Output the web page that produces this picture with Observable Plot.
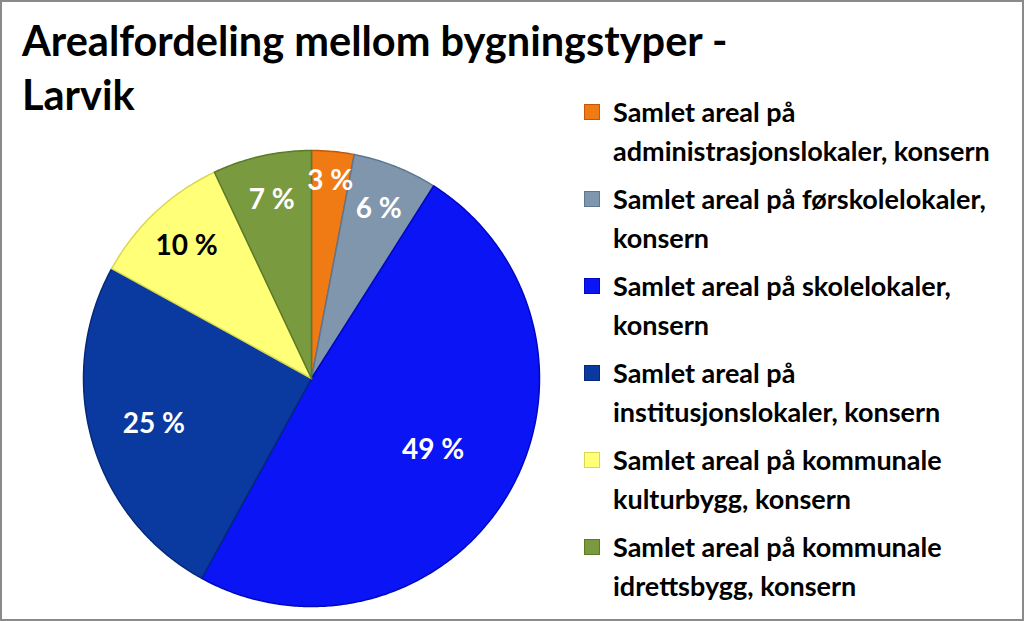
<!DOCTYPE html>
<html>
<head>
<meta charset="utf-8">
<script src="https://cdn.jsdelivr.net/npm/d3@7"></script>
<script src="https://cdn.jsdelivr.net/npm/@observablehq/plot@0.6"></script>
<style>
  html, body { margin: 0; padding: 0; background: #fff; }
  #frame { position: relative; width: 1024px; height: 621px; box-sizing: border-box; border: 2px solid #8a8a8a; background: #fff; overflow: hidden; font-family: Lato, "Open Sans", sans-serif; }
  #title { position: absolute; left: 20px; top: 11px; font-size: 41.5px; font-weight: 700; line-height: 54px; color: #000; }
  #pie { position: absolute; left: 76px; top: 143px; }
  #legend { position: absolute; left: 582px; top: 90px; }
  .entry { position: relative; padding-left: 29px; font-size: 27px; font-weight: 700; line-height: 39px; margin-bottom: 9px; color: #000; }
  .sw { position: absolute; left: 0; top: 12px; width: 16px; height: 16px; box-sizing: border-box; }
</style>
</head>
<body>
<div id="frame">
  <div id="title"></div>
  <div id="pie"></div>
  <div id="legend"></div>
</div>
<script>
const titleLines = ["Arealfordeling mellom bygningstyper -", "Larvik"];
const categories = [
  "Samlet areal på administrasjonslokaler, konsern",
  "Samlet areal på førskolelokaler, konsern",
  "Samlet areal på skolelokaler, konsern",
  "Samlet areal på institusjonslokaler, konsern",
  "Samlet areal på kommunale kulturbygg, konsern",
  "Samlet areal på kommunale idrettsbygg, konsern"
];
const legendLines = [
  ["Samlet areal på", "administrasjonslokaler, konsern"],
  ["Samlet areal på førskolelokaler,", "konsern"],
  ["Samlet areal på skolelokaler,", "konsern"],
  ["Samlet areal på", "institusjonslokaler, konsern"],
  ["Samlet areal på kommunale", "kulturbygg, konsern"],
  ["Samlet areal på kommunale", "idrettsbygg, konsern"]
];
const values = [3, 6, 49, 25, 10, 7];
const colors = ["#f07a14", "#7f96ad", "#0a14f5", "#0a3aa0", "#ffff78", "#7a9a40"];
const strokes = ["#c05a08", "#5f7690", "#0008c0", "#06287a", "#d8d850", "#5a7a28"];
const labelColors = ["#fff", "#fff", "#fff", "#fff", "#000", "#fff"];

// Title
document.getElementById("title").innerHTML = titleLines.map(t => `<div>${t}</div>`).join("");

// Legend
document.getElementById("legend").innerHTML = legendLines.map((lines, i) =>
  `<div class="entry"><div class="sw" style="background:${colors[i]};border:1px solid ${strokes[i]}"></div>${lines.join("<br>")}</div>`
).join("");

// Pie geometry from data
const arcs = d3.pie().sort(null).startAngle(0).endAngle(2 * Math.PI)(values);
const slices = arcs.map((a, i) => {
  const pts = [{x: 0, y: 0}];
  const n = Math.max(4, Math.ceil((a.endAngle - a.startAngle) / 0.01));
  for (let k = 0; k <= n; k++) {
    const t = a.startAngle + (a.endAngle - a.startAngle) * k / n;
    pts.push({x: Math.sin(t), y: Math.cos(t)});
  }
  pts.push({x: 0, y: 0});
  return {i, pts};
});
const labels = arcs.map((a, i) => {
  const m = (a.startAngle + a.endAngle) / 2;
  const f = values[i] > 40 ? 0.62 : values[i] > 20 ? 0.72 : (values[i] < 5 ? 0.87 : 0.8);
  return {x: f * Math.sin(m), y: f * Math.cos(m), text: `${values[i]} %`, color: labelColors[i], name: categories[i]};
});

const plot = Plot.plot({
  width: 466, height: 466, margin: 5,
  x: {domain: [-1, 1], axis: null},
  y: {domain: [-1, 1], axis: null},
  marks: [
    ...slices.map(s => Plot.line(s.pts, {x: "x", y: "y", fill: colors[s.i], stroke: strokes[s.i], strokeWidth: 1.5, strokeLinejoin: "round", curve: "linear"})),
    Plot.text(labels, {x: "x", y: "y", text: "text", fill: "color", fontSize: 28, fontWeight: "bold", fontFamily: "Lato", textAnchor: "middle", lineAnchor: "middle"})
  ]
});
document.getElementById("pie").appendChild(plot);
</script>
</body>
</html>
